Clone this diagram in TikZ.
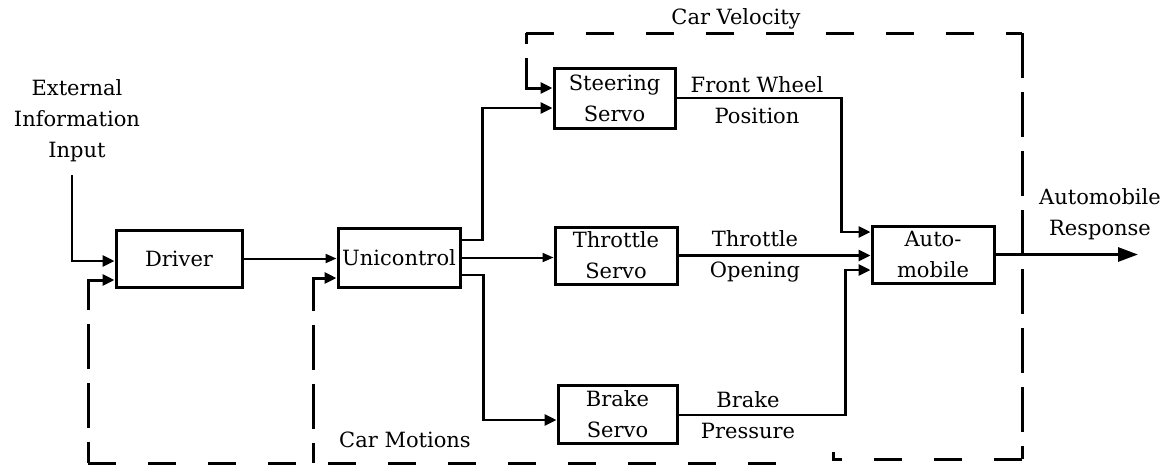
\documentclass[tikz,border=0pt]{standalone}
\usepackage{fontspec}
\setmainfont{DejaVu Serif}
\usetikzlibrary{arrows.meta}
\tikzset{
  blk/.style={draw, line width=3pt, inner sep=0pt, align=center,
              font=\fontsize{21}{31}\selectfont},
  lbl/.style={align=center, inner sep=0pt, font=\fontsize{21}{31}\selectfont},
  conn/.style={line width=2.8pt, -{Triangle[length=12pt,width=11pt]}},
  thin conn/.style={line width=2pt, -{Triangle[length=11pt,width=9pt]}},
  fbh/.style={line width=3pt, dash pattern=on 28pt off 32pt},
  fbv/.style={line width=3pt, dash pattern=on 45pt off 14pt},
  fbarrow/.style={fbv, {Triangle[length=12pt,width=11pt]}-},
}
\begin{document}
\begin{tikzpicture}[x=1pt,y=-1pt]
\useasboundingbox (0,0) rectangle (1166,467);

% blocks
\node[blk, minimum width=126pt, minimum height=57pt] (drv) at (179,258.5) {Driver};
\node[blk, minimum width=122pt, minimum height=59pt] (uni) at (399,257.5) {Unicontrol};
\node[blk, minimum width=121pt, minimum height=60pt] (ste) at (614.5,98) {Steering\\Servo};
\node[blk, minimum width=122pt, minimum height=57pt] (thr) at (616,255.5) {Throttle\\Servo};
\node[blk, minimum width=119pt, minimum height=58pt] (brk) at (617.5,414) {Brake\\Servo};
\node[blk, minimum width=122pt, minimum height=57pt] (aut) at (933,254.5) {Auto-\\mobile};

% labels
\node[lbl] (ext) at (77,121) {External\\Information\\Input};
\node[lbl] (cv) at (736,19) {Car Velocity};
\node[lbl] (fw) at (757,100) {Front Wheel\\Position};
\node[lbl] (to) at (755,256) {Throttle\\Opening};
\node[lbl] (bp) at (748,415) {Brake\\Pressure};
\node[lbl] (ar) at (1100,214) {Automobile\\Response};
\node[lbl] (cm) at (405,440) {Car Motions};

% free ends
\coordinate (ein) at (72,175);
\coordinate (cmL) at (88,463);
\coordinate (cmM) at (313,463);
\coordinate (cmR) at (805,463);
\coordinate (cvA) at (526,33);
\coordinate (cvB) at (1022,33);
\coordinate (cvC) at (1022,459);
\coordinate (cvD) at (833,459);
\coordinate (cvE) at (833,452);
\coordinate (out) at (1138,254.5);

% forward connectors
\draw[conn] (ein) |- ([yshift=-2.5pt]drv.west);
\draw[thin conn] (drv.east) -- (drv.east -| uni.west);
\draw[conn] ([yshift=17.5pt]uni.east) -- ++(21,0) |- ([yshift=-10pt]ste.west);
\draw[thin conn] (uni.east) -- (uni.east -| thr.west);
\draw[conn] ([yshift=-17.5pt]uni.east) -- ++(22,0) |- ([yshift=-6pt]brk.west);
\draw[conn] (ste.east) -- ++(165,0) |- ([yshift=22.5pt]aut.west);
\draw[conn] (thr.east) -- (thr.east -| aut.west);
\draw[conn] ([yshift=-1pt]brk.east) -- ++(167,0) |- ([yshift=-15.5pt]aut.west);
\draw[line width=3pt, -{Triangle[length=20pt,width=14pt]}] (aut.east) -- (out);

% feedback loops (dashed)
\draw[fbarrow] ([yshift=-21.5pt]drv.west) -| (cmL);
\draw[fbh] (cmL) -- (cmR);
\draw[fbarrow] ([yshift=-20.5pt]uni.west) -| (cmM);
\draw[fbarrow] ([yshift=10pt]ste.west) -| (cvA);
\draw[fbh] (cvA) -- (cvB);
\draw[fbv] (cvB) -- (cvC);
\draw[fbh] (cvC) -- (cvD) -- (cvE);
\end{tikzpicture}
\end{document}
